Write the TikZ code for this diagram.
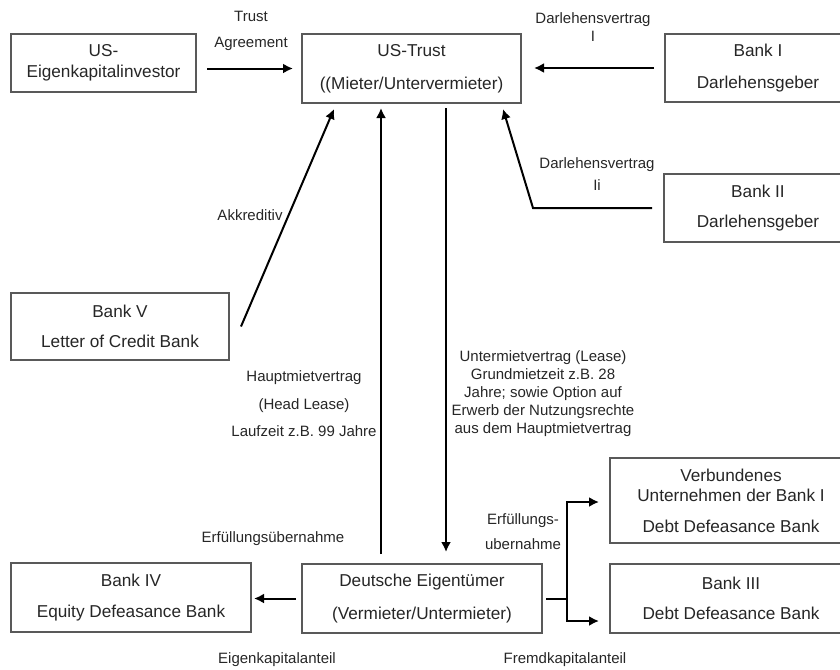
\documentclass[tikz,border=0pt]{standalone}
\usepackage{fontspec}
\setmainfont{Liberation Sans}
\usetikzlibrary{arrows.meta}

\tikzset{
  box/.style={draw=black!65, line width=1pt, inner sep=0pt, align=center,
    text=black!85, font=\fontsize{8.6}{10.3}\selectfont},
  lbl/.style={align=center, inner sep=0pt, text=black!85,
    font=\fontsize{7.5}{9}\selectfont},
  arr/.style={-{Latex[length=5pt,width=5pt]}, line width=1pt},
}

\begin{document}
\begin{tikzpicture}[x=0.5pt,y=-0.5pt]
    \useasboundingbox (0,0) rectangle (840,669);
    % \draw[very thin, color=gray, step=20] (0,0) grid (840,669);

    \node[box, minimum width=92.5pt, minimum height=29pt] (inv) at (103.5,63) {US-\\Eigenkapitalinvestor};
    \node[box, minimum width=109.5pt, minimum height=34.5pt] (trust) at (411.5,68.5) {US-Trust\\[6pt]((Mieter/Untervermieter)};
    \node[box, minimum width=93pt, minimum height=34pt] (bankI) at (758,68) {Bank I\\[6pt]Darlehensgeber};
    \node[box, minimum width=94pt, minimum height=34pt] (bankII) at (758,208) {Bank II\\[5pt]Darlehensgeber};
    \node[box, minimum width=109pt, minimum height=33.5pt] (bankV) at (120,326.5) {Bank V\\[5pt]Letter of Credit Bank};
    \node[box, minimum width=120pt, minimum height=34.5pt] (bankIV) at (131,597.5) {Bank IV\\[5pt]Equity Defeasance Bank};
    \node[box, minimum width=120pt, minimum height=34.5pt] (deu) at (422,598.5) {Deutsche Eigentümer\\[6pt](Vermieter/Untermieter)};
    \node[box, minimum width=121pt, minimum height=42.5pt] (verb) at (731,500.5) {Verbundenes\\Unternehmen der Bank I\\[5pt]Debt Defeasance Bank};
    \node[box, minimum width=121pt, minimum height=34.5pt] (bankIII) at (731,598.5) {Bank III\\[5pt]Debt Defeasance Bank};

    \draw[arr, shorten <=5pt, shorten >=4pt] (inv.east |- trust.west) -- (trust.west);
    \draw[arr, shorten <=5pt, shorten >=6pt] (bankI.west) -- (trust.east |- bankI.west);
    \draw[arr] ([xshift=5.5pt]bankV.east) -- ([xshift=16.5pt,yshift=-2.5pt]trust.south west);
    \draw[arr] ([xshift=40pt,yshift=4.5pt]deu.north west) -- ([xshift=40pt,yshift=-2pt]trust.south west);
    \draw[arr] ([xshift=72.5pt,yshift=-2pt]trust.south west) -- ([xshift=72.5pt,yshift=5.5pt]deu.north west);
    \draw[arr] ([xshift=-5.5pt]bankII.west) -- ([xshift=-65pt]bankII.west)
      -- ([xshift=-9.5pt,yshift=-2.5pt]trust.south east);
    \draw[arr, shorten <=2.5pt, shorten >=1pt] (deu.west) -- (bankIV.east |- deu.west);
    \coordinate (fork) at ([xshift=12pt]deu.east);
    \draw[line width=1pt, shorten <=1.5pt] (deu.east) -- (fork);
    \draw[arr] (fork) |- ([xshift=-5pt,yshift=-0.75pt]verb.west);
    \draw[arr] (fork) |- ([xshift=-5pt,yshift=-11.25pt]bankIII.west);

    \node[lbl] (trustlbl) at (251,31) {Trust\\[4pt]Agreement};
    \node[lbl] (dvIlbl) at (593,27) {Darlehensvertrag\\I};
    \node[lbl] (dvIIlbl) at (597,174) {Darlehensvertrag\\[2pt]Ii};
    \node[lbl] (akklbl) at (250,215) {Akkreditiv};
    \node[lbl] (hauptlbl) at (304,404) {Hauptmietvertrag\\[4.75pt](Head Lease)\\[4.75pt]Laufzeit z.B. 99 Jahre};
    \node[lbl] (unterlbl) at (543,394) {Untermietvertrag (Lease)\\Grundmietzeit z.B. 28\\Jahre; sowie Option auf\\Erwerb der Nutzungsrechte\\aus dem Hauptmietvertrag};
    \node[lbl] (erfIVlbl) at (273,539) {Erfüllungsübernahme};
    \node[lbl] (erfIIIlbl) at (523,532) {Erfüllungs-\\[3.5pt]ubernahme};
    \node[lbl] (eklbl) at (277,660) {Eigenkapitalanteil};
    \node[lbl] (fklbl) at (565,660) {Fremdkapitalanteil};
\end{tikzpicture}
\end{document}
